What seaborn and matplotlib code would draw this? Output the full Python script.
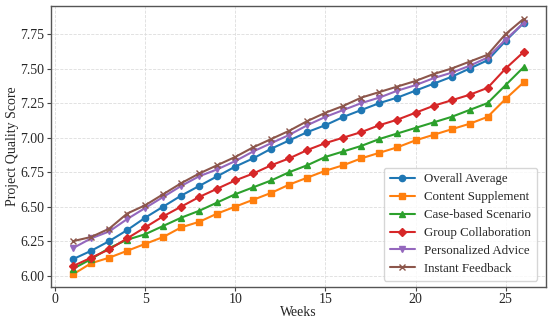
import matplotlib
matplotlib.use("Agg")
import matplotlib.pyplot as plt
import numpy as np
import pandas as pd
import seaborn as sns

weeks = list(range(1, 27))

overall_average = [6.12, 6.18, 6.25, 6.33, 6.42, 6.50, 6.58, 6.65, 6.72, 6.79,
                   6.85, 6.92, 6.98, 7.04, 7.09, 7.15, 7.20, 7.25, 7.29, 7.34,
                   7.39, 7.44, 7.50, 7.56, 7.70, 7.83]
content_supplement = [6.01, 6.09, 6.13, 6.18, 6.23, 6.28, 6.35, 6.39, 6.45, 6.50,
                      6.55, 6.60, 6.66, 6.71, 6.76, 6.80, 6.85, 6.89, 6.93, 6.98,
                      7.02, 7.06, 7.10, 7.15, 7.28, 7.40]
case_based = [6.05, 6.12, 6.20, 6.26, 6.30, 6.36, 6.42, 6.47, 6.53, 6.59,
              6.64, 6.69, 6.75, 6.80, 6.86, 6.90, 6.94, 6.99, 7.03, 7.07,
              7.11, 7.15, 7.20, 7.25, 7.38, 7.51]
group_collab = [6.07, 6.13, 6.19, 6.27, 6.35, 6.43, 6.50, 6.57, 6.63, 6.69,
                6.74, 6.80, 6.85, 6.91, 6.96, 7.00, 7.04, 7.09, 7.13, 7.18,
                7.23, 7.27, 7.31, 7.36, 7.50, 7.62]
personalized = [6.20, 6.27, 6.32, 6.41, 6.49, 6.57, 6.65, 6.72, 6.77, 6.83,
                6.90, 6.96, 7.02, 7.09, 7.15, 7.20, 7.25, 7.29, 7.34, 7.38,
                7.43, 7.47, 7.52, 7.58, 7.71, 7.83]
instant_feedback = [6.25, 6.28, 6.34, 6.45, 6.51, 6.59, 6.67, 6.74, 6.80, 6.86,
                    6.93, 6.99, 7.05, 7.12, 7.18, 7.23, 7.29, 7.33, 7.37, 7.41,
                    7.46, 7.50, 7.55, 7.60, 7.75, 7.86]

series_names = ["Overall Average", "Content Supplement", "Case-based Scenario",
                "Group Collaboration", "Personalized Advice", "Instant Feedback"]
series_values = [overall_average, content_supplement, case_based,
                 group_collab, personalized, instant_feedback]

sns.set_theme(style="whitegrid")
plt.rcParams["font.family"] = ["Liberation Serif", "DejaVu Serif"]

colors = ["#1f77b4", "#ff7f0e", "#2ca02c", "#d62728", "#9467bd", "#8c564b"]
markers = ["o", "s", "^", "D", "v", "x"]

fig, ax = plt.subplots(figsize=(5.5, 3.2), dpi=100)
fig.subplots_adjust(left=0.092, right=0.993, top=0.981, bottom=0.103)

for name, vals, c, m in zip(series_names, series_values, colors, markers):
    sns.lineplot(x=weeks, y=vals, label=name, color=c, marker=m,
                 markersize=4.5, markeredgewidth=1.0, markeredgecolor=c,
                 linewidth=1.5, ax=ax)

ax.set_xlabel("Weeks", fontsize=10, labelpad=0)
ax.set_ylabel("Project Quality Score", fontsize=10, labelpad=1)
ax.set_xticks([0, 5, 10, 15, 20, 25])
ax.set_yticks([6.00, 6.25, 6.50, 6.75, 7.00, 7.25, 7.50, 7.75])
ax.yaxis.set_major_formatter(matplotlib.ticker.FormatStrFormatter("%.2f"))
ax.tick_params(labelsize=10, length=3, width=0.8, color="#444444",
               left=True, bottom=True, pad=1.5)
ax.grid(True, linestyle="--", linewidth=0.6, color="#dddddd")
for sp in ax.spines.values():
    sp.set_color("#555555")
    sp.set_linewidth(1.0)

leg = ax.legend(loc="lower right", fontsize=9.3, frameon=True,
                handlelength=2.0, handletextpad=0.7, borderpad=0.45,
                labelspacing=0.45, bbox_to_anchor=(0.995, 0.0))
leg.get_frame().set_edgecolor("#cccccc")

fig.savefig("out.png", dpi=100)
